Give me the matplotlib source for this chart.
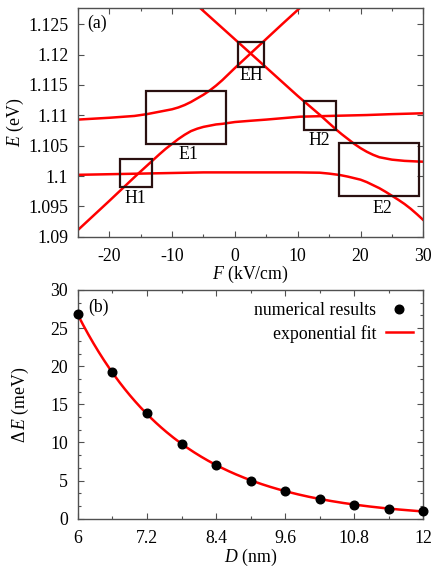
import numpy as np
import matplotlib
matplotlib.use("Agg")
import matplotlib.pyplot as plt
from matplotlib.patches import Rectangle
from matplotlib.ticker import AutoMinorLocator, MultipleLocator

plt.rcParams["font.family"] = ["Liberation Serif", "DejaVu Serif"]
plt.rcParams["mathtext.fontset"] = "custom"
plt.rcParams["mathtext.rm"] = "Liberation Serif"
plt.rcParams["mathtext.it"] = "Liberation Serif:italic"
plt.rcParams["font.size"] = 12.8
plt.rcParams["axes.unicode_minus"] = False

# (a) energy levels vs field
f_a = [-25, -20, -16, -14, -12, -11, -10, -9, -8, -7, -6, -5, -4, -3, -2, -1, 0,
       2.5, 5, 7.5, 10.25]
e_a = [1.1093, 1.1096, 1.1099, 1.1102, 1.1106, 1.1108, 1.1110, 1.1113, 1.1117,
       1.1122, 1.1128, 1.1134, 1.1141, 1.1149, 1.1158, 1.1168, 1.1178,
       1.1202, 1.1226, 1.1250, 1.1276]

f_b = [-25, -20, -15.6, -12, -11, -10, -9, -8, -7, -6, -5, -4, -3, -2, 0, 2.4, 5,
       10.4, 15, 21, 25, 30]
e_b = [1.0911, 1.0959, 1.1002, 1.1036, 1.1045, 1.1053, 1.1061, 1.1068, 1.1074,
       1.1078, 1.1081, 1.1083, 1.1085, 1.1086, 1.1089, 1.1091, 1.1093,
       1.10978, 1.1099, 1.11005, 1.1102, 1.11034]

f_c = [-25, -15, -5, 5, 10, 13.5, 15, 16.7, 18, 19, 20, 21, 22, 23, 24, 25, 26,
       27, 28, 29, 30]
e_c = [1.1002, 1.1004, 1.1006, 1.1006, 1.1006, 1.10055, 1.1004, 1.10017, 1.0999,
       1.09965, 1.0994, 1.0990, 1.0985, 1.0980, 1.0974, 1.09675, 1.0961,
       1.0954, 1.0946, 1.0937, 1.09275]

f_d = [-5.45, 2.5, 10, 13.55, 15, 16.2, 17, 18, 19, 20, 21, 22, 23, 24, 25, 26,
       27, 28, 29, 30]
e_d = [1.1276, 1.1202, 1.1132, 1.11006, 1.1087, 1.10759, 1.1069, 1.1061, 1.1053,
       1.1046, 1.1040, 1.1035, 1.1031, 1.1029, 1.1027, 1.1026, 1.1025,
       1.10245, 1.1024, 1.10236]

# boxes round the crossings, with their labels
box_names = ["E1", "H1", "EH", "H2", "E2"]
box_f0 = [-14.16, -18.3, 0.55, 10.95, 16.6]
box_f1 = [-1.42, -13.2, 4.67, 16.05, 29.3]
box_e0 = [1.10522, 1.09813, 1.11802, 1.10758, 1.0967]
box_e1 = [1.11407, 1.10286, 1.12203, 1.11236, 1.10538]
label_f = [-7.4, -15.9, 2.67, 13.4, 23.4]
label_e = [1.1035, 1.0963, 1.1166, 1.1059, 1.0947]

# (b) splitting vs distance
d_nm = [6.0, 6.6, 7.2, 7.8, 8.4, 9.0, 9.6, 10.2, 10.8, 11.4, 12.0]
delta_e = [26.9, 19.2, 13.8, 9.85, 7.05, 5.0, 3.6, 2.6, 1.8, 1.3, 1.0]

red = "#ff0000"
box_color = "#2a1010"
spine_color = "#505050"

fig = plt.figure(figsize=(4.41, 5.75), dpi=100)
ax1 = fig.add_axes([0.1766, 0.5883, 0.7833, 0.3973])
ax2 = fig.add_axes([0.1766, 0.0979, 0.7833, 0.3978])

for f, e in [(f_a, e_a), (f_b, e_b), (f_c, e_c), (f_d, e_d)]:
    ax1.plot(f, e, color=red, lw=1.8)

for name, x0, x1, y0, y1, lx, ly in zip(box_names, box_f0, box_f1, box_e0, box_e1, label_f, label_e):
    ax1.add_patch(Rectangle((x0, y0), x1 - x0, y1 - y0, fill=False,
                            edgecolor=box_color, lw=1.6, zorder=3))
    ax1.text(lx, ly, name, ha="center", va="center")

ax1.set_xlim(-25, 30)
ax1.set_ylim(1.09, 1.12764)
ax1.xaxis.set_major_locator(MultipleLocator(10))
ax1.xaxis.set_minor_locator(AutoMinorLocator(2))
ax1.yaxis.set_major_locator(MultipleLocator(0.005))
ax1.yaxis.set_major_formatter(plt.FuncFormatter(lambda v, p: ("%.3f" % v).rstrip("0").rstrip(".")))
ax1.set_xlabel("$F$ (kV/cm)")
ax1.set_ylabel("$E$ (eV)")
ax1.xaxis.set_label_coords(0.5, -0.167)
ax1.yaxis.set_label_coords(-0.181, 0.5)
ax1.text(0.056, 0.934, "(a)", transform=ax1.transAxes, ha="center", va="center")

# exponential fit to the numerical results
coef = np.polyfit(d_nm, np.log(delta_e), 1)
d_fit = np.linspace(d_nm[0], d_nm[-1], 200)
ax2.plot(d_fit, np.exp(np.polyval(coef, d_fit)), color=red, lw=1.8, zorder=2)
ax2.plot(d_nm, delta_e, "o", color="black", ms=6.2, zorder=3, clip_on=False)

# legend gnuplot-style: text first, sample on the right
h_pts = ax2.plot([], [], "o", color="black", ms=6.2, label="numerical results")[0]
h_fit = ax2.plot([], [], color=red, lw=1.8, label="exponential fit")[0]
ax2.legend(handles=[h_pts, h_fit], loc="upper right", frameon=False,
           markerfirst=False, handlelength=1.5, handletextpad=0.55,
           borderaxespad=0.1, labelspacing=0.3, bbox_to_anchor=(0.995, 0.985))

ax2.set_xlim(6, 12)
ax2.set_ylim(0, 30)
ax2.xaxis.set_major_locator(MultipleLocator(1.2))
ax2.xaxis.set_major_formatter(plt.FuncFormatter(lambda v, p: ("%.1f" % v).rstrip("0").rstrip(".")))
ax2.xaxis.set_minor_locator(AutoMinorLocator(2))
ax2.yaxis.set_major_locator(MultipleLocator(5))
ax2.yaxis.set_minor_locator(AutoMinorLocator(3))
ax2.set_xlabel("$D$ (nm)")
ax2.set_ylabel("$\\Delta\\,E$ (meV)")
ax2.xaxis.set_label_coords(0.5, -0.168)
ax2.yaxis.set_label_coords(-0.167, 0.5)
ax2.text(0.06, 0.926, "(b)", transform=ax2.transAxes, ha="center", va="center")

for ax in (ax1, ax2):
    ax.xaxis.label.set_va("center")
    ax.yaxis.label.set_va("center")
    ax.tick_params(which="both", direction="in", top=True, right=True,
                   color=spine_color, width=0.8)
    ax.tick_params(which="major", length=4)
    ax.tick_params(which="minor", length=2.5)
    ax.tick_params(axis="x", which="major", pad=8)
    ax.tick_params(axis="y", which="major", pad=7)
    for s in ax.spines.values():
        s.set_color(spine_color)
        s.set_linewidth(1.0)

fig.savefig("out.png", dpi=100)
